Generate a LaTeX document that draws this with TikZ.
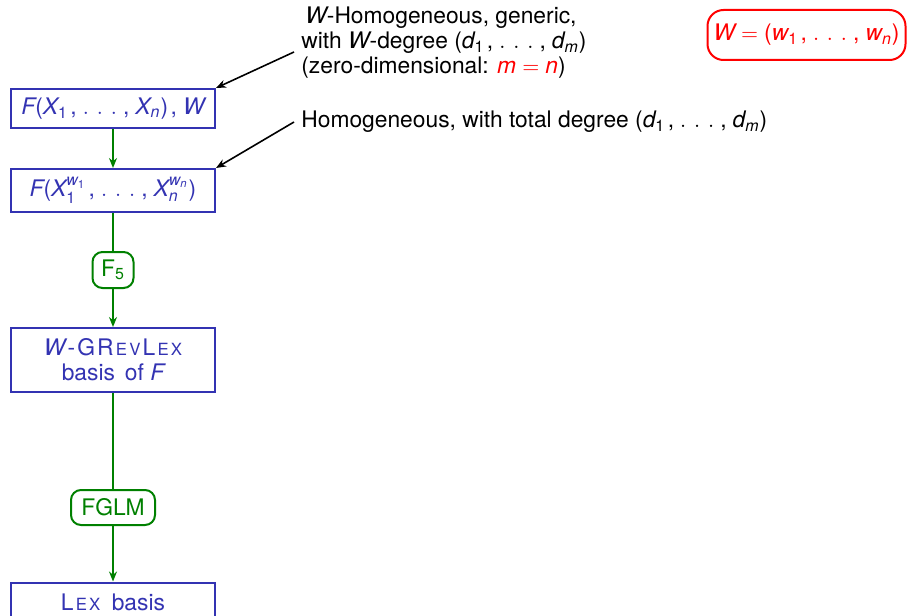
\documentclass[tikz,border=0pt]{standalone}
\usepackage{fontspec}
\setmainfont{TeX Gyre Heros}
\usepackage{amsmath}
\usetikzlibrary{arrows.meta}
\definecolor{sblue}{RGB}{51,51,178}
\definecolor{sgreen}{RGB}{0,128,0}
\newcommand\mi[1]{\text{\itshape #1}}
\newcommand\mr[1]{\text{#1}}
\newcommand\fsc[1]{{\fontsize{8.4}{10}\selectfont #1}}
\newcommand\cm{\mkern2mu\mathpunct{\mr{,}}\mkern2mu}
\newcommand\dd{\mathinner{.\mkern6.5mu.\mkern6.5mu.}}
\newcommand\lk{\kern1.1pt}
\begin{document}
\begin{tikzpicture}[x=0.5pt,y=-0.5pt,
  every node/.style={font=\fontsize{11.4}{12.5}\selectfont},
  bbox/.style={draw=sblue,line width=1pt,text=sblue,minimum width=102pt,align=center,inner sep=2pt},
  algo/.style={draw=sgreen,line width=1pt,text=sgreen,rounded corners=5pt,inner sep=2pt},
  garrow/.style={draw=sgreen,line width=1pt,-{Stealth[length=5pt,width=4pt]}},
  gline/.style={draw=sgreen,line width=1pt},
  barrow/.style={draw=black,line width=0.8pt,-{Stealth[length=5pt,width=4pt]}}]
\useasboundingbox (0,0) rectangle (909,615);

\node[bbox,minimum height=19.5pt] (b1) at (113,108.5)
  {$\mi{F}\mr{(}\mi{X}_{\mr{1}}\cm\dd\cm\mi{X}_{\mi{n}}\mr{)}\cm\mi{W}$};
\node[bbox,minimum height=21.5pt] (b2) at (113,190.5)
  {$\mi{F}\mr{(}\mi{X}_{\mr{1}}^{\mi{w}_{\mr{1}}}\cm\dd\cm\mi{X}_{\mi{n}}^{\mi{w}_{\mi{n}}}\mr{)}$};
\node[algo,minimum width=20.5pt,minimum height=18pt] (f5) at (113,270) {F$_{\mr{5}}$};
\node[bbox,minimum height=32pt] (b3) at (113,360)
  {\mi{W}\lk-\lk G\lk R\lk\fsc{E\lk V}\lk L\lk\fsc{E\lk X}\\basis\hspace{5pt}of \mi{F}};
\node[algo,minimum width=42pt,minimum height=17.5pt] (fg) at (113,507.5) {FGLM};
\node[bbox,minimum height=19.5pt] (b4) at (113,602) {L\lk\fsc{E\lk X}\hspace{2.5pt} basis};

\draw[garrow] (b1) -- (b2);
\draw[gline] (b2) -- (f5);
\draw[garrow] (f5) -- (b3);
\draw[gline] (b3) -- (fg);
\draw[garrow] (fg) -- (b4);

\node[anchor=west,align=left,inner sep=0pt] (t1) at (301,43)
  {\hspace{2pt}\mi{W}-Homogeneous, generic,\\
   with \mi{W}-degree $\mr{(}\mi{d}_{\mr{1}}\cm\dd\cm\mi{d}_{\mi{m}}\mr{)}$\\
   (zero-dimensional: {\color{red}$\mi{m}=\mi{n}$})};
\node[anchor=west,inner sep=0pt] (t2) at (301,122)
  {Homogeneous, with total degree $\mr{(}\mi{d}_{\mr{1}}\cm\dd\cm\mi{d}_{\mi{m}}\mr{)}$};
\coordinate (a1) at (294,52);
\coordinate (a2) at (294,122);
\draw[barrow] (a1) -- (b1.north east);
\draw[barrow] (a2) -- (b2.north east);

\node[draw=red,line width=1pt,text=red,rounded corners=8pt,minimum width=99pt,minimum height=25pt,inner sep=2pt] (wb) at (806.5,35)
  {$\mi{W}=\mr{(}\mi{w}_{\mr{1}}\cm\dd\cm\mi{w}_{\mi{n}}\mr{)}$};
\end{tikzpicture}
\end{document}
